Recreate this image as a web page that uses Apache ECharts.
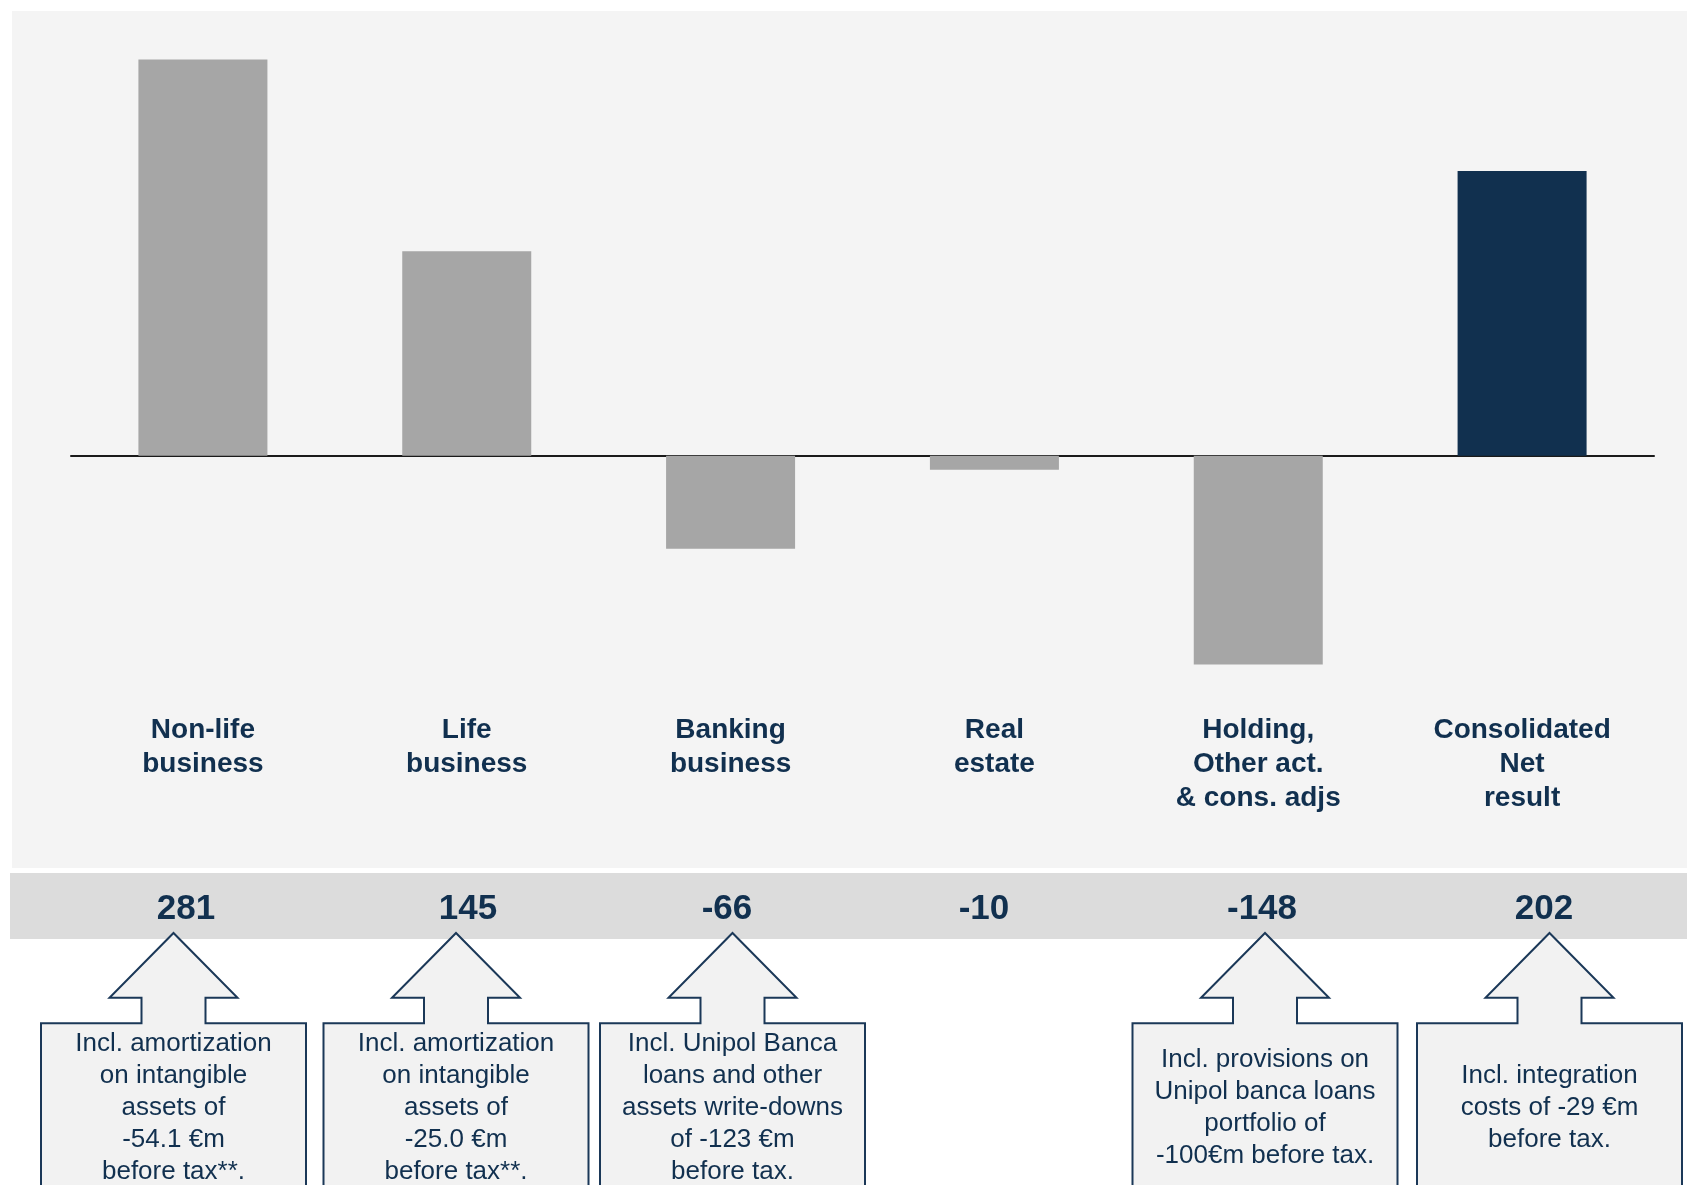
<!DOCTYPE html>
<html>
<head>
<meta charset="utf-8">
<title>Consolidated net result by segment</title>
<script src="https://cdn.jsdelivr.net/npm/echarts@6/dist/echarts.min.js"></script>
<style>
  html, body { margin: 0; padding: 0; background: #ffffff; }
  #chart { width: 1687px; height: 1185px; }
</style>
</head>
<body>
<div id="chart"></div>
<script>
// Segment results (€m)
const categories = [
  'Non-life\nbusiness',
  'Life\nbusiness',
  'Banking\nbusiness',
  'Real\nestate',
  'Holding,\nOther act.\n& cons. adjs',
  'Consolidated\nNet\nresult'
];
const values = [281, 145, -66, -10, -148, 202];

// Notes under the value row (null = no note for that segment)
const notes = [
  'Incl. amortization\non intangible\nassets of\n-54.1 €m\nbefore tax**.',
  'Incl. amortization\non intangible\nassets of\n-25.0 €m\nbefore tax**.',
  'Incl. Unipol Banca\nloans and other\nassets write-downs\nof -123 €m\nbefore tax.',
  null,
  'Incl. provisions on\nUnipol banca loans\nportfolio of\n-100€m before tax.',
  'Incl. integration\ncosts of -29 €m\nbefore tax.'
];

const NAVY = '#11304f';
const GREY = '#a6a6a6';
const FONT = '"Liberation Sans", Arial, Helvetica, sans-serif';

// horizontal placement of the value row and the note callouts
const valueX = [186, 468, 727, 984, 1262, 1544];
const noteX = [173.5, 456, 732.5, null, 1265, 1549.5];

const graphics = [];

// light panel behind the bars
graphics.push({
  type: 'rect', z: -10, silent: true,
  shape: { x: 12, y: 11, width: 1687 - 12, height: 857 },
  style: { fill: '#f4f4f4' }
});
// grey value band
graphics.push({
  type: 'rect', z: -10, silent: true,
  shape: { x: 10, y: 873, width: 1677, height: 66 },
  style: { fill: '#dcdcdc' }
});

values.forEach(function (v, i) {
  graphics.push({
    type: 'text', z: 5, silent: true,
    x: valueX[i], y: 909,
    style: {
      text: String(v),
      fill: NAVY,
      font: 'bold 35px ' + FONT,
      align: 'center',
      verticalAlign: 'middle'
    }
  });
});

// arrow-shaped callout boxes pointing up at the value row
notes.forEach(function (note, i) {
  if (!note) return;
  const cx = noteX[i];
  const tipY = 933, headY = 997.7, boxY = 1023.3, bottomY = 1210;
  const boxHalf = 132.5, headHalf = 64, shaftHalf = 32;
  graphics.push({
    type: 'polygon', z: 5, silent: true,
    shape: {
      points: [
        [cx - boxHalf, bottomY],
        [cx - boxHalf, boxY],
        [cx - shaftHalf, boxY],
        [cx - shaftHalf, headY],
        [cx - headHalf, headY],
        [cx, tipY],
        [cx + headHalf, headY],
        [cx + shaftHalf, headY],
        [cx + shaftHalf, boxY],
        [cx + boxHalf, boxY],
        [cx + boxHalf, bottomY]
      ]
    },
    style: { fill: '#f2f2f2', stroke: '#1b3858', lineWidth: 2, lineJoin: 'miter' }
  });
  graphics.push({
    type: 'text', z: 6, silent: true,
    x: cx, y: 1108,
    style: {
      text: note,
      fill: NAVY,
      font: '26px ' + FONT,
      lineHeight: 32,
      align: 'center',
      verticalAlign: 'middle'
    }
  });
});

const chart = echarts.init(document.getElementById('chart'), null, { renderer: 'canvas' });

chart.setOption({
  backgroundColor: 'transparent',
  animation: false,
  textStyle: { fontFamily: FONT },
  grid: { left: 71, right: 33, top: 46.8, bottom: 489.6, containLabel: false },
  xAxis: [
    {
      type: 'category',
      data: categories,
      axisLine: { show: true, onZero: true, lineStyle: { color: '#1a1a1a', width: 2 } },
      axisTick: { show: false },
      axisLabel: { show: false },
      splitLine: { show: false }
    },
    {
      type: 'category',
      data: categories,
      position: 'bottom',
      axisLine: { show: false, onZero: false },
      axisTick: { show: false },
      axisLabel: {
        show: true,
        interval: 0,
        margin: 18,
        color: NAVY,
        fontFamily: FONT,
        fontWeight: 'bold',
        fontSize: 28,
        lineHeight: 34,
        align: 'center'
      },
      splitLine: { show: false }
    }
  ],
  yAxis: {
    type: 'value',
    min: -170,
    max: 290,
    show: false,
    splitLine: { show: false }
  },
  series: [
    {
      type: 'bar',
      xAxisIndex: 0,
      data: values,
      barWidth: 129,
      itemStyle: {
        color: function (p) {
          return p.dataIndex === values.length - 1 ? NAVY : GREY;
        }
      },
      label: { show: false },
      z: 2
    }
  ],
  graphic: graphics
});
</script>
</body>
</html>
